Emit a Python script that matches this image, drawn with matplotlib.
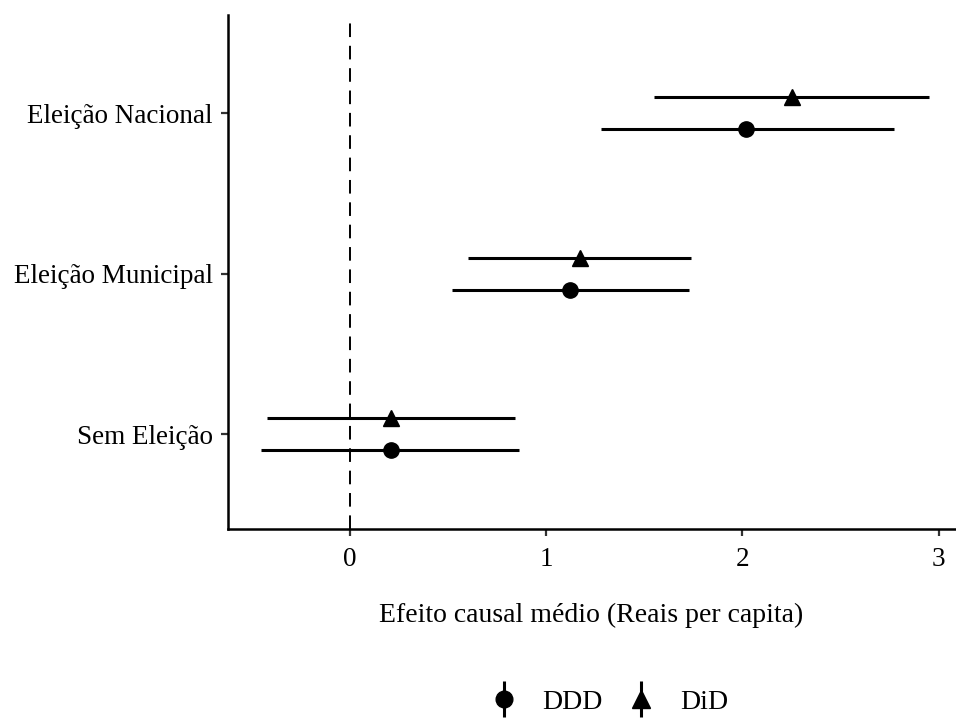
import matplotlib.pyplot as plt
from matplotlib.lines import Line2D
from matplotlib.legend_handler import HandlerTuple
import numpy as np

plt.rcParams['font.family'] = ['Liberation Serif', 'DejaVu Serif']

categories = ["Sem Eleição", "Eleição Municipal", "Eleição Nacional"]

# DDD estimates and intervals
ddd_est = [0.21, 1.12, 2.02]
ddd_low = [-0.45, 0.52, 1.28]
ddd_high = [0.86, 1.73, 2.77]

# DiD estimates and intervals
did_est = [0.21, 1.17, 2.25]
did_low = [-0.42, 0.60, 1.55]
did_high = [0.84, 1.74, 2.95]

fig = plt.figure(figsize=(9.56, 7.18), dpi=100)
ax = fig.add_axes([0.2385, 0.263, 0.76, 0.716])

ypos = np.arange(1, len(categories) + 1)
off = 0.1

ax.axvline(0, color='black', lw=1.4, ls=(0, (7, 4.5)), zorder=1)

ax.hlines(ypos - off, ddd_low, ddd_high, color='black', lw=2.2, zorder=2)
ax.plot(ddd_est, ypos - off, 'o', color='black', ms=11, zorder=3)
ax.hlines(ypos + off, did_low, did_high, color='black', lw=2.2, zorder=2)
ax.plot(did_est, ypos + off, '^', color='black', ms=12, zorder=3)

ax.set_xlim(-0.62, 3.08)
ax.set_ylim(0.41, 3.61)
ax.set_yticks(ypos)
ax.set_yticklabels(categories)
ax.set_xticks([0, 1, 2, 3])

for s in ['top', 'right']:
    ax.spines[s].set_visible(False)
for s in ['left', 'bottom']:
    ax.spines[s].set_linewidth(1.8)
ax.tick_params(axis='both', labelsize=19.5, width=1.6, length=5, color='#333333')
ax.tick_params(axis='x', pad=8)
ax.tick_params(axis='y', pad=6)
ax.set_xlabel('Efeito causal médio (Reais per capita)', fontsize=20, labelpad=22)

vbar = Line2D([], [], marker='|', color='black', ls='none', ms=26, mew=2.2)
h_ddd = (vbar, Line2D([], [], marker='o', color='black', ls='none', ms=12))
h_did = (vbar, Line2D([], [], marker='^', color='black', ls='none', ms=13))
fig.legend([h_ddd, h_did], ['DDD', 'DiD'],
           handler_map={tuple: HandlerTuple(ndivide=1, pad=0)},
           loc='center', bbox_to_anchor=(0.637, 0.022), ncol=2, frameon=False,
           fontsize=20, handlelength=1.0, columnspacing=0.88, handletextpad=0.9)

fig.savefig('out.png', dpi=100)
